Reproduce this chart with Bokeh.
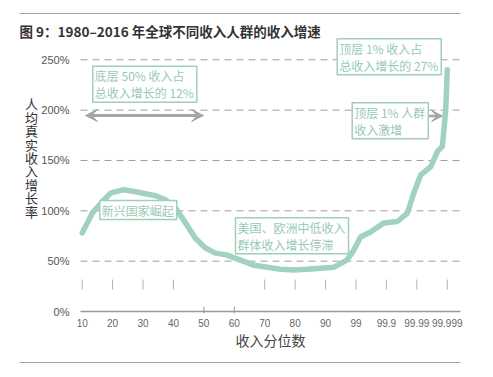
from bokeh.plotting import figure
from bokeh.models import Range1d, FixedTicker, Label, Arrow, VeeHead
from bokeh.embed import file_html
from bokeh.resources import INLINE
from bokeh.core.properties import value

# ---------------- data ----------------
title_text = "图 9：1980–2016 年全球不同收入人群的收入增速"
y_axis_title = "人均真实收入增长率"
x_axis_title = "收入分位数"

percentile_labels = ["10", "20", "30", "40", "50", "60", "70", "80", "90",
                     "99", "99.9", "99.99", "99.999"]
y_tick_values = [0, 50, 100, 150, 200, 250]
y_tick_labels = ["0%", "50%", "100%", "150%", "200%", "250%"]

# position on the percentile scale (index into percentile_labels) and growth (%)
curve_pos = [0, 0.33, 0.66, 0.93, 1.37, 1.75, 2.08, 2.41, 2.74, 3.07, 3.4, 3.72,
             4.05, 4.38, 4.77, 5.2, 5.64, 6.09, 6.52, 6.96, 7.4, 7.84, 8.28, 8.7,
             8.93, 9.15, 9.48, 9.92, 10.36, 10.69, 10.9, 11.13, 11.46, 11.68,
             11.84, 11.95, 12.0]
curve_growth = [78, 97.7, 109, 117.6, 121, 119, 117, 115, 111, 102.7, 87.8, 72.8,
                63, 58, 56, 51, 46, 44, 42, 41.3, 42, 43, 44, 51,
                61, 74, 79, 88, 89.4, 97.7, 117.6, 135.8, 144, 159,
                164, 200, 240]

note_bottom50 = "底层 50% 收入占\n总收入增长的 12%"
note_top1 = "顶层 1% 收入占\n总收入增长的 27%"
note_top1_surge = "顶层 1% 人群\n收入激增"
note_emerging = "新兴国家崛起"
note_stagnant = "美国、欧洲中低收入\n群体收入增长停滞"

# ---------------- style / layout ----------------
CJK = "Noto Sans CJK SC"
LATIN = "Liberation Sans"
LINE_C = "#a1d2bd"
BOX_TEXT = "#98c9b3"
BOX_BORDER = "#9fcfbb"
GRAY = "#a0a0a0"
W, H = 493, 377

# page-pixel -> data helpers (the frame covers the whole page)
X0_PX, X_STEP = 81.7, 30.42     # pixel of first category, pixels per category
Y0_PX, Y_STEP = 311.0, 1.0068   # pixel of 0 %, pixels per percent
def X(px):
    return (px - X0_PX) / X_STEP
def Y(py):
    return (Y0_PX - py) / Y_STEP

p = figure(width=W, height=H, x_range=Range1d(X(0), X(W)),
           y_range=Range1d(Y(H), Y(0)), toolbar_location=None,
           output_backend="svg", min_border=0, title=None)
p.outline_line_color = None
p.background_fill_color = "white"
p.border_fill_color = "white"
p.xgrid.visible = False
p.ygrid.visible = False

# x axis, drawn at 0 %
xa = p.xaxis[0]
xa.fixed_location = 0
xa.bounds = (X(80), X(460))
xa.ticker = FixedTicker(ticks=list(range(len(percentile_labels))))
xa.major_label_overrides = {i: s for i, s in enumerate(percentile_labels)}
xa.major_tick_line_color = None
xa.minor_tick_line_color = None
xa.axis_line_color = "#999999"
xa.axis_line_width = 1.5
xa.major_label_text_font = LATIN
xa.major_label_text_font_size = "10px"
xa.major_label_text_color = "#666666"
xa.major_label_standoff = 1
xa.axis_label = x_axis_title
xa.axis_label_text_font = CJK
xa.axis_label_text_font_style = "normal"
xa.axis_label_text_font_size = "14px"
xa.axis_label_text_color = "#444444"
xa.axis_label_standoff = 0

# y axis, drawn at the left edge of the plotting area
ya = p.yaxis[0]
ya.fixed_location = X(80)
ya.bounds = (0, 250)
ya.ticker = FixedTicker(ticks=y_tick_values)
ya.major_label_overrides = {v: s for v, s in zip(y_tick_values, y_tick_labels)}
ya.axis_line_color = None
ya.major_tick_line_color = None
ya.minor_tick_line_color = None
ya.major_label_text_font = LATIN
ya.major_label_text_font_size = "11px"
ya.major_label_text_color = "#555555"
ya.major_label_standoff = 5

# dashed grid lines at the y ticks
grid_vals = [v for v in y_tick_values if v > 0]
p.segment(x0=[X(80)] * len(grid_vals), y0=grid_vals,
          x1=[X(460)] * len(grid_vals), y1=grid_vals,
          line_color=GRAY, line_width=1, line_dash="7 5")

# small stray tick marks
idx = list(range(len(percentile_labels)))
float_ticks = [i for i in idx if percentile_labels[i] not in ("50", "60")]
p.segment(x0=float_ticks, y0=[Y(289)] * len(float_ticks), x1=float_ticks,
          y1=[Y(279)] * len(float_ticks), line_color="#b0b0b0", line_width=1)
axis_ticks = [i for i in idx if percentile_labels[i] in ("50", "60")]
p.segment(x0=axis_ticks, y0=[Y(313)] * len(axis_ticks), x1=axis_ticks,
          y1=[Y(306)] * len(axis_ticks), line_color="#999999", line_width=1)

# the curve
p.line(curve_pos, curve_growth, line_color=LINE_C, line_width=5.5,
       line_cap="round", line_join="round")

# header / footer rules and title
p.segment(x0=[X(19), X(19)], y0=[Y(13), Y(362)], x1=[X(460), X(460)],
          y1=[Y(13), Y(362)], line_color=GRAY, line_width=1.2)
p.add_layout(Label(x=X(19), y=Y(30), text=title_text, anchor="center_left",
                   text_font=CJK, text_font_style="bold", text_font_size="13.5px",
                   text_color="#333333"))

# stacked y-axis title
p.add_layout(Label(x=X(31), y=Y(157), text="\n".join(y_axis_title),
                   anchor="center", text_align="center", text_font=CJK,
                   text_font_size="13px", text_color="#333333",
                   text_line_height=0.71))

# arrows
AC = "#a6a6a6"
p.add_layout(Arrow(x_start=X(85), y_start=Y(115), x_end=X(203), y_end=Y(115),
                   line_color=AC, line_width=3,
                   start=VeeHead(size=12, fill_color=AC, line_color=AC),
                   end=VeeHead(size=12, fill_color=AC, line_color=AC)))
p.add_layout(Arrow(x_start=X(426), y_start=Y(115.5), x_end=X(442), y_end=Y(115.5),
                   line_color=AC, line_width=2.5,
                   end=VeeHead(size=11, fill_color=AC, line_color=AC)))

def note(px, py, text):
    return Label(x=X(px), y=Y(py), text=text, anchor="top_left", text_align="left",
                 text_font=CJK, text_font_size="12px", text_color=BOX_TEXT,
                 text_line_height=1.0, background_fill_color="white",
                 border_line_color=BOX_BORDER, border_line_width=1.5,
                 padding=dict(left=2, right=3, top=1, bottom=1))

p.add_layout(note(92.3, 65.7, note_bottom50))
p.add_layout(note(336.7, 38.3, note_top1))
p.add_layout(note(351.7, 102.3, note_top1_surge))
p.add_layout(note(99.3, 200, note_emerging))
p.add_layout(note(235, 217.3, note_stagnant))

open("out.html", "w").write(file_html(p, INLINE))
